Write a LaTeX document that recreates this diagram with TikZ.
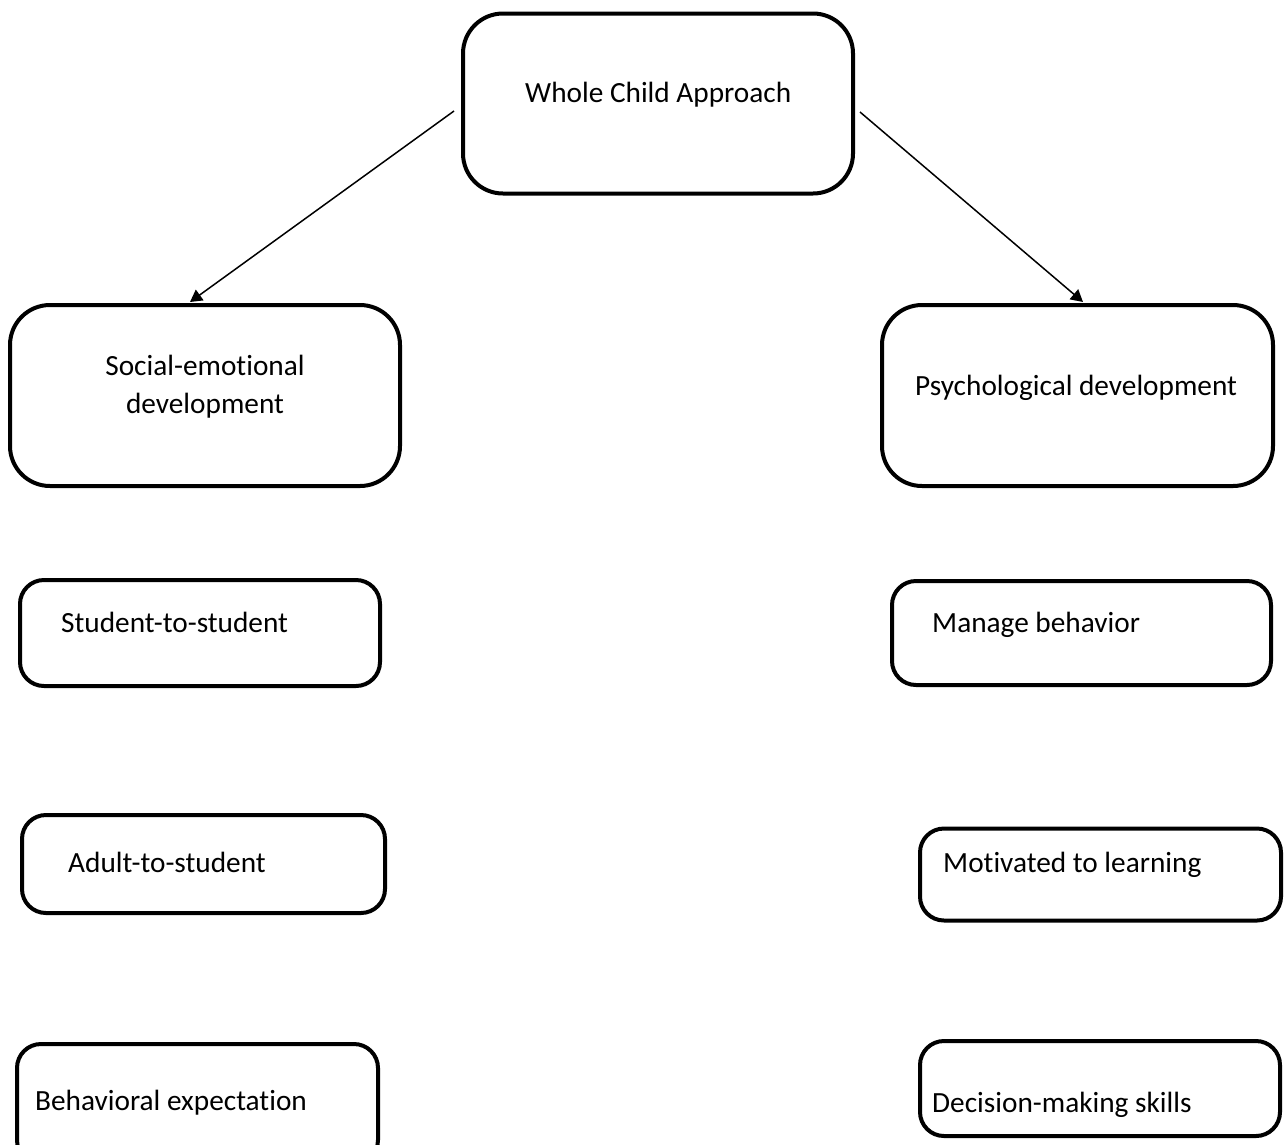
\documentclass[tikz,border=0pt]{standalone}
\usepackage{fontspec}
\setmainfont{Carlito}[Ligatures={NoCommon,NoContextual}]
\usetikzlibrary{arrows.meta}
\begin{document}
\begin{tikzpicture}[x=1pt,y=-1pt,
  bigbox/.style={draw=black,line width=4pt,rounded corners=40pt,fill=white,inner sep=0pt},
  smallbox/.style={draw=black,line width=4pt,rounded corners=24pt,fill=white,inner sep=0pt},
  lbl/.style={anchor=base west,inner sep=0pt,font=\fontsize{29.3}{38}\selectfont},
  clbl/.style={anchor=base,inner sep=0pt,font=\fontsize{29.3}{38}\selectfont},
  arr/.style={line width=1.5pt,-{Triangle[width=13pt,length=12pt]}}]
\useasboundingbox (0,0) rectangle (1285,1144);
% boxes (line centres)
\node[bigbox,minimum width=390pt,minimum height=180pt] (wc) at (658,103.5) {};
\node[bigbox,minimum width=390pt,minimum height=181pt] (se) at (205,395.5) {};
\node[bigbox,minimum width=391pt,minimum height=181pt] (pd) at (1077.5,395.5) {};
\node[smallbox,minimum width=360pt,minimum height=106pt] (ss) at (200,633) {};
\node[smallbox,minimum width=379pt,minimum height=104pt] (mb) at (1081.5,633) {};
\node[smallbox,minimum width=363pt,minimum height=98pt] (as) at (203.5,864) {};
\node[smallbox,minimum width=361pt,minimum height=92pt] (ml) at (1100.5,874.5) {};
\node[smallbox,minimum width=361pt,minimum height=120pt] (be) at (197.5,1104) {};
\node[smallbox,minimum width=360pt,minimum height=95pt] (dm) at (1100,1088.5) {};
% texts
\node[lbl] (twc) at (525,102) {Whole Child Approach};
\node[clbl] (tse1) at (205,375) {Social-emotional};
\node[clbl] (tse2) at (205,413) {development};
\node[lbl] (tpd) at (915,395) {Psychological development};
\node[lbl] (tss) at (61,632) {Student-to-student};
\node[lbl] (tmb) at (932,632) {Manage behavior};
\node[lbl] (tas) at (68,872) {Adult-to-student};
\node[lbl] (tml) at (943,872) {Motivated to learning};
\node[lbl] (tbe) at (35,1110) {Behavioral expectation};
\node[lbl] (tdm) at (932,1112) {Decision-making skills};
% connectors
\draw[arr] ([xshift=-7pt,yshift=-7.5pt]wc.west) -- ([xshift=-15pt,yshift=1pt]se.north);
\draw[arr] ([xshift=5pt,yshift=-8.5pt]wc.east) -- ([xshift=5.5pt,yshift=1pt]pd.north);
\end{tikzpicture}
\end{document}
